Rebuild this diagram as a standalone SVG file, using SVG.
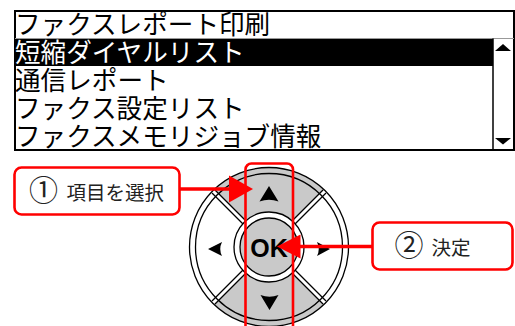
<svg xmlns="http://www.w3.org/2000/svg" width="515" height="326" viewBox="0 0 515 326">
<style>
.lcd{font-family:"Noto Sans CJK JP","Noto Sans CJK SC",sans-serif;font-size:25.6px;fill:#000}
.lcdh{font-family:"Noto Sans CJK JP","Noto Sans CJK SC",sans-serif;font-size:25.6px;fill:#fff}
.ln{fill:none;stroke:#000;stroke-width:1.3}
.gray{fill:#c9c9c9}
.sepo{stroke:#000;stroke-width:5.5;fill:none}
.sepi{stroke:#fff;stroke-width:3;fill:none}
.red{fill:none;stroke:#ff0000;stroke-width:2.6}
.redf{fill:#ff0000}
.callout{fill:#fff;stroke:#ff0000;stroke-width:2.6}
.ct{font-family:"Noto Sans CJK JP","Noto Sans CJK SC",sans-serif;font-size:19.5px;fill:#222}
.cn{font-family:"Noto Sans CJK JP","Noto Sans CJK SC",sans-serif;font-size:29px;fill:#222}
.ok{font-family:"Liberation Sans",Arial,sans-serif;font-weight:bold;font-size:25px;fill:#000}
</style>
<rect width="515" height="326" fill="#fff"/>
<g id="screen">
<rect x="15" y="11" width="499" height="139" fill="#fff" stroke="#000" stroke-width="2"/>
<line x1="15" y1="38.5" x2="514" y2="38.5" stroke="#999" stroke-width="1"/>
<rect x="16" y="39" width="477" height="27" fill="#000"/>
<line x1="493" y1="38.5" x2="493" y2="149" stroke="#000" stroke-width="1.5"/>
<polygon points="495,51 511,51 503,44" fill="#000"/>
<polygon points="495,138 511,138 503,144.5" fill="#000"/>
<text class="lcd" x="15" y="34">ファクスレポート印刷</text>
<text class="lcdh" x="15" y="62">短縮ダイヤルリスト</text>
<text class="lcd" x="15" y="90">通信レポート</text>
<text class="lcd" x="15" y="118">ファクス設定リスト</text>
<text class="lcd" x="15" y="146">ファクスメモリジョブ情報</text>
</g>
<g id="dial">
<circle cx="269" cy="247" r="79.5" fill="#fff"/>
<path class="gray" d="M269,247 L212.78,190.78 A79.5,79.5 0 0 1 325.22,190.78 Z"/>
<path class="gray" d="M269,247 L325.22,303.22 A79.5,79.5 0 0 1 212.78,303.22 Z"/>
<path class="sepo" d="M244.25,222.25 L213.5,191.5 M293.75,222.25 L324.5,191.5 M244.25,271.75 L213.5,302.5 M293.75,271.75 L324.5,302.5"/>
<path class="sepi" d="M244.25,222.25 L212.5,190.5 M293.75,222.25 L325.5,190.5 M244.25,271.75 L212.5,303.5 M293.75,271.75 L325.5,303.5"/>
<circle class="ln" cx="269" cy="247" r="79.5"/>
<circle class="ln" cx="269" cy="247" r="73.5"/>
<circle cx="269" cy="247" r="35" fill="#fff" stroke="#000" stroke-width="1.3"/>
<circle cx="269" cy="247" r="29" fill="#c9c9c9" stroke="#000" stroke-width="1.3"/>
<text class="ok" x="269" y="256.5" text-anchor="middle">OK</text>
<path d="M269,186 L278.5,201.5 Q269,198 259.5,201.5 Z" fill="#000"/>
<path d="M269.5,310 L278.5,295 Q269.5,298.5 260.5,295 Z" fill="#000"/>
<path d="M208,249 L222,242 Q218.5,249 222,256 Z" fill="#000"/>
<path d="M330,249 L317,242 Q320.5,249 317,256 Z" fill="#000"/>
</g>
<g id="highlight">
<rect class="red" x="245.5" y="163.5" width="47.5" height="180" rx="6"/>
</g>
<g id="connectors">
<line x1="180" y1="189" x2="232" y2="189" stroke="#ff0000" stroke-width="3.5"/>
<polygon class="redf" points="229,175.5 253,189 229,202.5"/>
<line x1="372" y1="246.5" x2="297" y2="246.5" stroke="#ff0000" stroke-width="3.5"/>
<polygon class="redf" points="300.5,234.5 277,246.5 300.5,258.5"/>
</g>
<g id="callout1">
<rect class="callout" x="14.5" y="167.5" width="165" height="47" rx="7"/>
<text class="cn" x="43.5" y="201" text-anchor="middle">①</text>
<text class="ct" x="66.5" y="200">項目を選択</text>
</g>
<g id="callout2">
<rect class="callout" x="372.5" y="222.5" width="140" height="47" rx="7"/>
<text class="cn" x="409" y="256" text-anchor="middle">②</text>
<text class="ct" x="431.5" y="254.5">決定</text>
</g>
</svg>
